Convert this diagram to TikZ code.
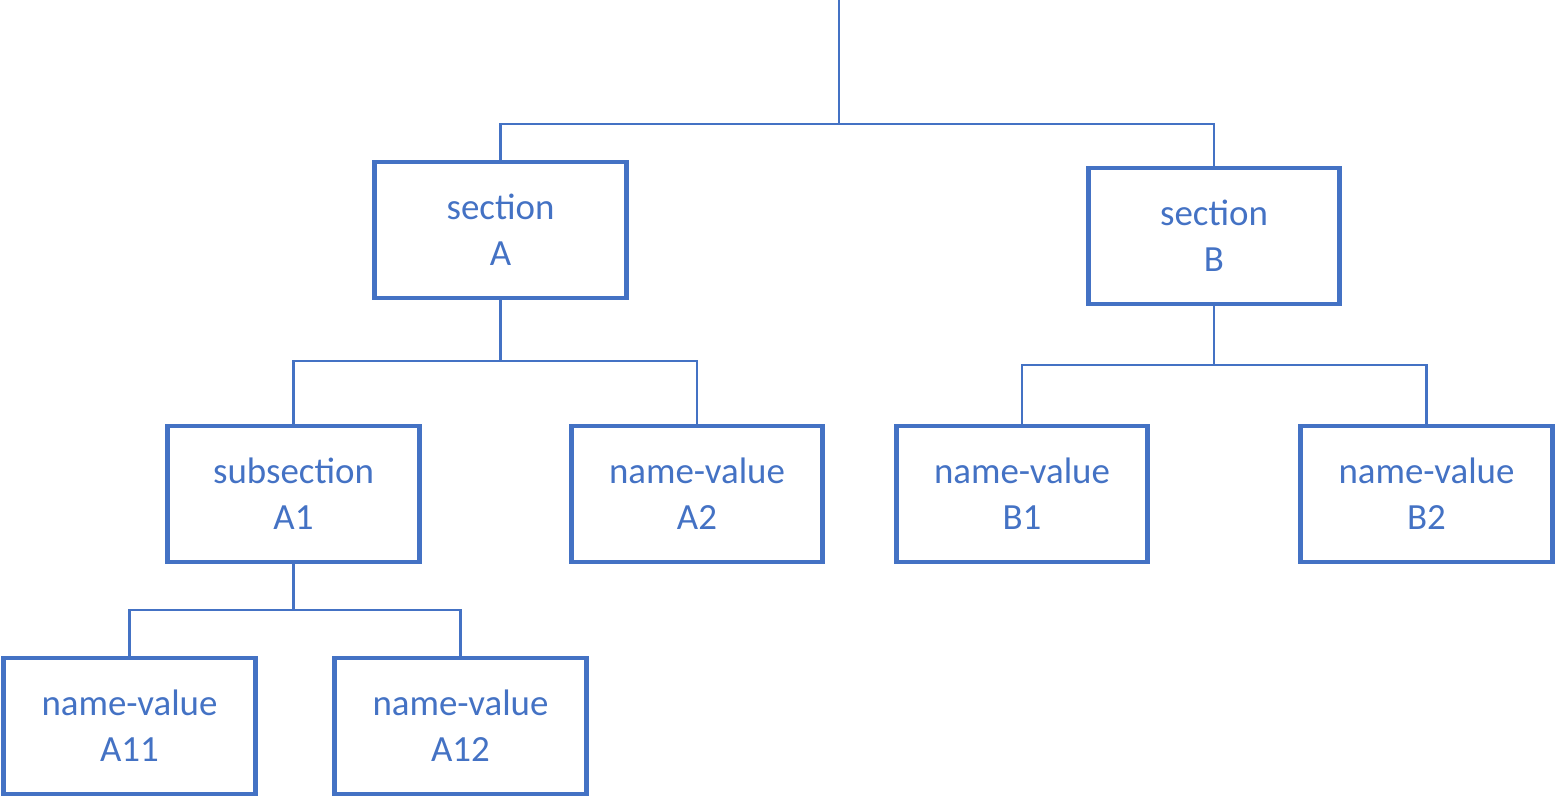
\documentclass[tikz,border=0pt]{standalone}
\usepackage{fontspec}
\setmainfont{Carlito}
\usepackage{tikz}
\usepackage{xcolor}
\definecolor{officeblue}{HTML}{4472C4}
\tikzstyle{treebox} = [rectangle,
                       minimum width=5.03cm,
                       minimum height=2.72cm,
                       inner sep=0pt,
                       text centered,
                       align=center,
                       draw=officeblue,
                       line width=2.8pt,
                       text=officeblue,
                       font=\fontsize{21}{26}\selectfont]
\tikzstyle{link} = [draw=officeblue,
                    line width=1.4pt]
\begin{document}
\begin{tikzpicture}[x=0.02cm, y=-0.02cm]

    \useasboundingbox (0,0) rectangle (1555,797);

    \node (secA)  [treebox] at (500.5,230) {section\\A};
    \node (secB)  [treebox] at (1214,236)  {section\\B};
    \node (subA1) [treebox] at (293.5,494) {subsection\\A1};
    \node (nvA2)  [treebox] at (697,494)   {name-value\\A2};
    \node (nvB1)  [treebox] at (1022,494)  {name-value\\B1};
    \node (nvB2)  [treebox] at (1426.5,494) {name-value\\B2};
    \node (nvA11) [treebox] at (129.5,726) {name-value\\A11};
    \node (nvA12) [treebox] at (460.5,726) {name-value\\A12};

    \coordinate (top)    at (839,0);
    \coordinate (barAB)  at (839,124);
    \coordinate (barA)   at (500.5,361);
    \coordinate (barB)   at (1214,365);
    \coordinate (barA1)  at (293.5,610);

    \draw [link] (top) -- (barAB);
    \draw [link] (secA.north) -- (secA.north |- barAB) -| (secB.north);
    \draw [link] (secA.south) -- (barA);
    \draw [link] (subA1.north) -- (subA1.north |- barA) -| (nvA2.north);
    \draw [link] (secB.south) -- (barB);
    \draw [link] (nvB1.north) -- (nvB1.north |- barB) -| (nvB2.north);
    \draw [link] (subA1.south) -- (barA1);
    \draw [link] (nvA11.north) -- (nvA11.north |- barA1) -| (nvA12.north);

\end{tikzpicture}
\end{document}
